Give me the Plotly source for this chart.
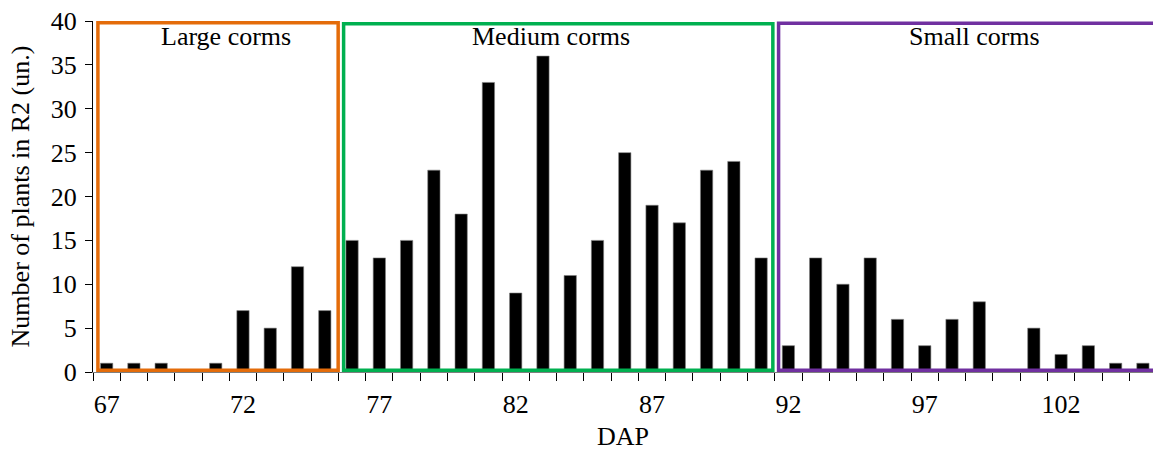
import plotly.graph_objects as go

dap = list(range(67, 106))
plants = [1, 1, 1, 0, 1, 7, 5, 12, 7,
          15, 13, 15, 23, 18, 33, 9, 36, 11, 15, 25, 19, 17, 23, 24, 13,
          3, 13, 10, 13, 6, 3, 6, 8, 0, 5, 2, 3, 1, 1]
tick_labels = [67, 72, 77, 82, 87, 92, 97, 102]

groups = [
    dict(name="Large corms", x0=66.68, x1=75.49, top=39.8, color="#E46C0A", tx=71.37),
    dict(name="Medium corms", x0=75.69, x1=91.43, top=39.7, color="#00B050", tx=83.29),
    dict(name="Small corms", x0=91.64, x1=107.0, top=39.75, color="#7030A0", tx=98.84),
]

FONT = "Liberation Serif, Times New Roman, serif"
FS = 26

fig = go.Figure()
fig.add_trace(go.Bar(
    x=dap, y=plants, width=0.45,
    marker=dict(color="black", line=dict(color="#7f7f7f", width=0.6)),
    showlegend=False,
))

for g in groups:
    fig.add_shape(type="rect", xref="x", yref="y",
                  x0=g["x0"], x1=g["x1"], y0=0.2, y1=g["top"],
                  line=dict(color=g["color"], width=3.5),
                  fillcolor="rgba(0,0,0,0)", layer="above")
    fig.add_annotation(x=g["tx"], y=38.2, xref="x", yref="y",
                       text=g["name"], showarrow=False,
                       font=dict(family=FONT, size=FS, color="black"))

fig.update_layout(
    width=1153, height=452,
    margin=dict(l=93, r=0, t=21, b=80),
    paper_bgcolor="white", plot_bgcolor="white",
    font=dict(family=FONT, size=FS, color="black"),
)
fig.update_xaxes(
    range=[66.5, 105.37],
    tickmode="array", tickvals=tick_labels, ticktext=[str(t) for t in tick_labels],
    ticks="outside", ticklen=9, tickcolor="rgba(0,0,0,0)",
    minor=dict(tickmode="linear", tick0=66.5, dtick=1, ticks="outside",
               ticklen=8, tickcolor="black", tickwidth=1.3),
    showline=True, linecolor="#7f7f7f", linewidth=1.3,
    showgrid=False, zeroline=False,
    ticklabeloverflow="allow",
    title=dict(text="DAP", standoff=8, font=dict(size=FS)),
    tickfont=dict(size=FS),
)
fig.update_yaxes(
    range=[0, 40], dtick=5, tick0=0,
    ticks="outside", ticklen=7, tickcolor="black", tickwidth=1.3,
    showline=True, linecolor="black", linewidth=1.3,
    showgrid=False, zeroline=False,
    ticklabelstandoff=3, ticklabeloverflow="allow",
    title=dict(text="Number of plants in R2 (un.)", standoff=13, font=dict(size=FS)),
    tickfont=dict(size=FS),
)

fig.write_html(
    "out.html",
    config={"displayModeBar": False},
    post_script="document.body.style.margin='0';document.body.style.overflow='hidden';",
)
